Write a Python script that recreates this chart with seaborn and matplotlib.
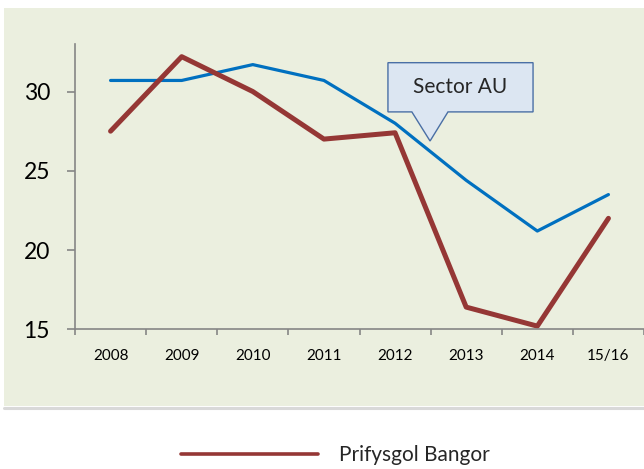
import numpy as np
import pandas as pd
import seaborn as sns
import matplotlib.pyplot as plt
from matplotlib.patches import Polygon, Rectangle
from matplotlib.lines import Line2D

years = ['2008', '2009', '2010', '2011', '2012', '2013', '2014', '15/16']
sector_au = [30.7, 30.7, 31.7, 30.7, 28.0, 24.4, 21.2, 23.5]
bangor = [27.5, 32.2, 30.0, 27.0, 27.4, 16.4, 15.2, 22.0]

green = '#EBEFDF'
red = '#953735'
blue = '#0070C0'
grey = '#868686'

sns.set_theme(style='white')
plt.rcParams['font.family'] = ['Lato', 'DejaVu Sans']

fig = plt.figure(figsize=(6.44, 4.69), dpi=100)
fig.patch.set_facecolor('white')

# green panel behind the chart + light grey bottom edge
fig.patches.append(Rectangle((4 / 644, 63 / 469), 640 / 644, 398 / 469,
                             transform=fig.transFigure, facecolor=green,
                             edgecolor='none', zorder=-2))
fig.lines.append(Line2D([4 / 644, 1], [61.5 / 469, 61.5 / 469],
                        transform=fig.transFigure, color='#D9D9D9', lw=2.2, zorder=-1))

ax = fig.add_axes([75 / 644, 1 - 329.3 / 469, 569 / 644, 285.3 / 469])
ax.set_facecolor('none')

df = pd.DataFrame({'year': years, 'Sector AU': sector_au, 'Prifysgol Bangor': bangor})
sns.lineplot(data=df, x='year', y='Sector AU', sort=False, color=blue, lw=2.3,
             ax=ax, solid_capstyle='round', solid_joinstyle='round')
sns.lineplot(data=df, x='year', y='Prifysgol Bangor', sort=False, color=red, lw=3.6,
             ax=ax, solid_capstyle='round', solid_joinstyle='round')

ax.set_xlim(-0.5, len(years) - 0.5)
ax.set_ylim(15, 33)
ax.set_yticks([15, 20, 25, 30])
ax.set_xticks(range(len(years)))
ax.set_xticklabels(years)
ax.set_xticks(np.arange(-0.5, len(years)), minor=True)
ax.set_xlabel('')
ax.set_ylabel('')

for s in ['top', 'right']:
    ax.spines[s].set_visible(False)
for s in ['left', 'bottom']:
    ax.spines[s].set_color(grey)
    ax.spines[s].set_linewidth(1.2)

ax.tick_params(axis='y', which='major', left=True, length=6, width=1.2, color=grey,
               labelsize=16.5, pad=12, labelcolor='black')
ax.tick_params(axis='x', which='major', bottom=False, length=0, labelsize=11,
               pad=14, labelcolor='black')
ax.tick_params(axis='x', which='minor', bottom=True, length=4, width=1.2, color=grey)

# callout for the sector line
pts = [(0.550, 0.762), (0.592, 0.762), (0.624, 0.660), (0.6555, 0.762),
       (0.805, 0.762), (0.805, 0.9345), (0.550, 0.9345)]
ax.add_patch(Polygon(pts, closed=True, transform=ax.transAxes, facecolor='#DCE6F2',
                     edgecolor='#4A6FA5', lw=1, zorder=5, clip_on=False))
ax.text(0.6775, 0.848, 'Sector AU', transform=ax.transAxes, ha='center',
        va='center', fontsize=15, zorder=6)

handle = Line2D([], [], color=red, lw=2.6)
fig.legend([handle], ['Prifysgol Bangor'], loc='center', bbox_to_anchor=(0.521, 0.030),
           frameon=False, fontsize=15, handlelength=6.6, handletextpad=1.0)

fig.savefig('out.png', dpi=100, facecolor=fig.get_facecolor())
